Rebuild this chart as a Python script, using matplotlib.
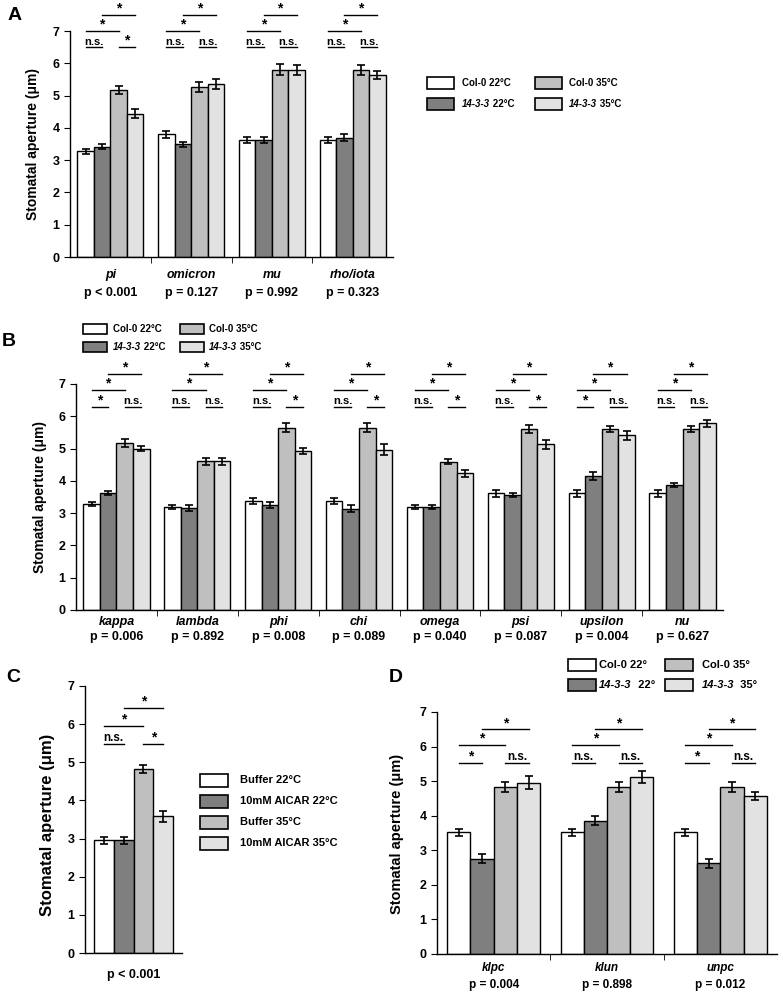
import matplotlib
matplotlib.use('Agg')
import matplotlib.pyplot as plt
from matplotlib.patches import Rectangle

plt.rcParams['font.family'] = ['Liberation Sans', 'DejaVu Sans']
plt.rcParams['font.weight'] = 'bold'
plt.rcParams['axes.linewidth'] = 1.0

W, H = 783, 992
colors = ['white', '#7f7f7f', '#bfbfbf', '#e2e2e2']

# ---- panel A
a_genes = ['pi', 'omicron', 'mu', 'rho/iota']
a_pvals = ['p < 0.001', 'p = 0.127', 'p = 0.992', 'p = 0.323']
a_means = [[3.28, 3.42, 5.17, 4.44],
           [3.80, 3.49, 5.27, 5.36],
           [3.62, 3.62, 5.80, 5.80],
           [3.62, 3.70, 5.80, 5.63]]
a_errs = [[0.08, 0.08, 0.12, 0.13],
          [0.10, 0.08, 0.16, 0.15],
          [0.09, 0.10, 0.17, 0.15],
          [0.09, 0.10, 0.16, 0.12]]
a_sig = [('n.s.', '*'), ('n.s.', 'n.s.'), ('n.s.', 'n.s.'), ('n.s.', 'n.s.')]

# ---- panel B
b_genes = ['kappa', 'lambda', 'phi', 'chi', 'omega', 'psi', 'upsilon', 'nu']
b_pvals = ['p = 0.006', 'p = 0.892', 'p = 0.008', 'p = 0.089',
           'p = 0.040', 'p = 0.087', 'p = 0.004', 'p = 0.627']
b_means = [[3.28, 3.62, 5.17, 5.00],
           [3.18, 3.16, 4.60, 4.60],
           [3.38, 3.24, 5.65, 4.92],
           [3.38, 3.14, 5.65, 4.97],
           [3.18, 3.19, 4.59, 4.23],
           [3.61, 3.56, 5.60, 5.13],
           [3.61, 4.16, 5.60, 5.41],
           [3.61, 3.88, 5.60, 5.78]]
b_errs = [[0.07, 0.07, 0.12, 0.08],
          [0.06, 0.08, 0.10, 0.12],
          [0.10, 0.09, 0.14, 0.10],
          [0.10, 0.11, 0.13, 0.16],
          [0.06, 0.06, 0.08, 0.12],
          [0.10, 0.06, 0.12, 0.15],
          [0.10, 0.12, 0.10, 0.13],
          [0.10, 0.06, 0.10, 0.12]]
b_sig = [('*', 'n.s.'), ('n.s.', 'n.s.'), ('n.s.', '*'), ('n.s.', '*'),
         ('n.s.', '*'), ('n.s.', '*'), ('*', 'n.s.'), ('n.s.', 'n.s.')]

# ---- panel C
c_labels = ['Buffer 22°C', '10mM AICAR 22°C', 'Buffer 35°C', '10mM AICAR 35°C']
c_pvals = ['p < 0.001']
c_means = [[2.95, 2.95, 4.83, 3.58]]
c_errs = [[0.08, 0.08, 0.10, 0.14]]
c_sig = [('n.s.', '*')]

# ---- panel D
d_genes = ['klpc', 'klun', 'unpc']
d_pvals = ['p = 0.004', 'p = 0.898', 'p = 0.012']
d_means = [[3.52, 2.76, 4.83, 4.96],
           [3.52, 3.86, 4.83, 5.12],
           [3.52, 2.62, 4.83, 4.57]]
d_errs = [[0.10, 0.12, 0.15, 0.20],
          [0.10, 0.14, 0.15, 0.18],
          [0.10, 0.12, 0.15, 0.12]]
d_sig = [('*', 'n.s.'), ('n.s.', 'n.s.'), ('*', 'n.s.')]


def px(x, y):
    return x / W, 1 - y / H


def axes_px(left, top, right, bottom):
    l, t = px(left, top)
    r, b = px(right, bottom)
    return fig.add_axes([l, b, r - l, t - b])


def draw_panel(ax, means, errs, sig, levels, tick_size=9, ns_size=8, star_size=10):
    w = 0.205
    n = len(means)
    for i in range(n):
        xs = [i + (j - 1.5) * w for j in range(4)]
        ax.bar(xs, means[i], width=w, color=colors, edgecolor='black',
               linewidth=1.0, zorder=2)
        ax.errorbar(xs, means[i], yerr=errs[i], fmt='none', ecolor='black',
                    elinewidth=1.2, capsize=2.6, capthick=1.2, zorder=3)
        pairs = [((xs[0], xs[1]), levels[0], sig[i][0]),
                 ((xs[2], xs[3]), levels[0], sig[i][1]),
                 ((xs[0], xs[2]), levels[1], '*'),
                 ((xs[1], xs[3]), levels[2], '*')]
        for (x0, x1), y, lab in pairs:
            ax.plot([x0, x1], [y, y], color='black', lw=1.0, clip_on=False)
            if lab == 'n.s.':
                ax.text((x0 + x1) / 2, y + 0.01, lab, ha='center', va='bottom',
                        fontsize=ns_size, clip_on=False)
            else:
                ax.text((x0 + x1) / 2, y - 0.02, lab, ha='center', va='bottom',
                        fontsize=star_size, clip_on=False)
    ax.set_xlim(-0.5, n - 0.5)
    ax.set_ylim(0, 7)
    ax.set_yticks(range(8))
    ax.set_xticks([])
    ax.set_xticks([i + 0.5 for i in range(n - 1)], minor=True)
    ax.tick_params(axis='x', which='minor', length=4, direction='out')
    ax.tick_params(axis='y', length=4, direction='out', labelsize=tick_size)
    for s in ['top', 'right']:
        ax.spines[s].set_visible(False)


def group_labels(ax, names, pvals, d1, d2, size=9):
    for i, p in enumerate(pvals):
        if names is not None:
            ax.annotate(names[i], xy=(i, 0), xycoords=('data', 'axes fraction'),
                        xytext=(0, -d1), textcoords='offset points',
                        ha='center', va='center', style='italic', fontsize=size)
        ax.annotate(p, xy=(i, 0), xycoords=('data', 'axes fraction'),
                    xytext=(0, -d2), textcoords='offset points',
                    ha='center', va='center', fontsize=size)


def legend_entry(ax, bx, cy, bw, bh, color, tx, parts, size):
    l, b = px(bx, cy + bh / 2)
    fig.add_artist(Rectangle((l, b), bw / W, bh / H, transform=fig.transFigure,
                             facecolor=color, edgecolor='black', lw=1.2))
    x, y = px(tx, cy)
    t = fig.text(x, y, parts[0][0], style=parts[0][1], fontsize=size,
                 ha='left', va='center')
    for txt, st in parts[1:]:
        t = ax.annotate(txt, xy=(1, 0), xycoords=t, ha='left', va='bottom',
                        style=st, fontsize=size, annotation_clip=False)


def ylabel(x, y, size):
    fx, fy = px(x, y)
    fig.text(fx, fy, 'Stomatal aperture (\u03bcm)', rotation=90,
             ha='center', va='center', fontsize=size)


fig = plt.figure(figsize=(W / 100, H / 100), dpi=100)

# A
axA = axes_px(70, 31, 393, 257)
draw_panel(axA, a_means, a_errs, a_sig, (6.5, 7.0, 7.5))
group_labels(axA, a_genes, a_pvals, 13, 26)
ylabel(33, 144, 10)
fig.text(*px(8, 16), 'A', fontsize=14, ha='left', va='center')
leg_A = [('white', [('Col-0 22°C', 'normal')]),
         ('#7f7f7f', [('14-3-3', 'italic'), (' 22°C', 'normal')]),
         ('#bfbfbf', [('Col-0 35°C', 'normal')]),
         ('#e2e2e2', [('14-3-3', 'italic'), (' 35°C', 'normal')])]
for k, (c, parts) in enumerate(leg_A):
    col, row = k // 2, k % 2
    legend_entry(axA, [427, 535][col], [83, 104][row], 27, 12, c,
                 [462, 569][col], parts, 7)

# B
axB = axes_px(76, 384, 723, 610)
draw_panel(axB, b_means, b_errs, b_sig, (6.3, 6.81, 7.31))
group_labels(axB, b_genes, b_pvals, 8.6, 19.5)
ylabel(40, 497, 10)
fig.text(*px(2, 342), 'B', fontsize=14, ha='left', va='center')
for k, (c, parts) in enumerate(leg_A):
    col, row = k // 2, k % 2
    legend_entry(axB, [83, 180][col], [329, 347][row], 24, 10, c,
                 [113, 209][col], parts, 7)

# C
axC = axes_px(85, 686, 182, 953)
draw_panel(axC, c_means, c_errs, c_sig, (5.48, 5.96, 6.43), ns_size=8.5)
group_labels(axC, None, c_pvals, 0, 16)
ylabel(48, 825, 12)
fig.text(*px(6, 678), 'C', fontsize=14, ha='left', va='center')
for k, lab in enumerate(c_labels):
    legend_entry(axC, 200, [780, 801, 822, 843][k], 28, 13, colors[k],
                 240, [(lab, 'normal')], 8)

# D
axD = axes_px(437, 712, 777, 954)
draw_panel(axD, d_means, d_errs, d_sig, (5.52, 6.04, 6.5), ns_size=8.5)
group_labels(axD, d_genes, d_pvals, 10, 22, size=8.5)
ylabel(397, 834, 10.5)
fig.text(*px(389, 678), 'D', fontsize=14, ha='left', va='center')
leg_D = [('white', [('Col-0 22°', 'normal')]),
         ('#7f7f7f', [('14-3-3', 'italic'), ('  22°', 'normal')]),
         ('#bfbfbf', [('Col-0 35°', 'normal')]),
         ('#e2e2e2', [('14-3-3', 'italic'), ('  35°', 'normal')])]
for k, (c, parts) in enumerate(leg_D):
    col, row = k // 2, k % 2
    legend_entry(axD, [568, 665][col], [665, 685][row], 28, 12, c,
                 [599, 702][col], parts, 8)

fig.savefig('out.png', dpi=100)
